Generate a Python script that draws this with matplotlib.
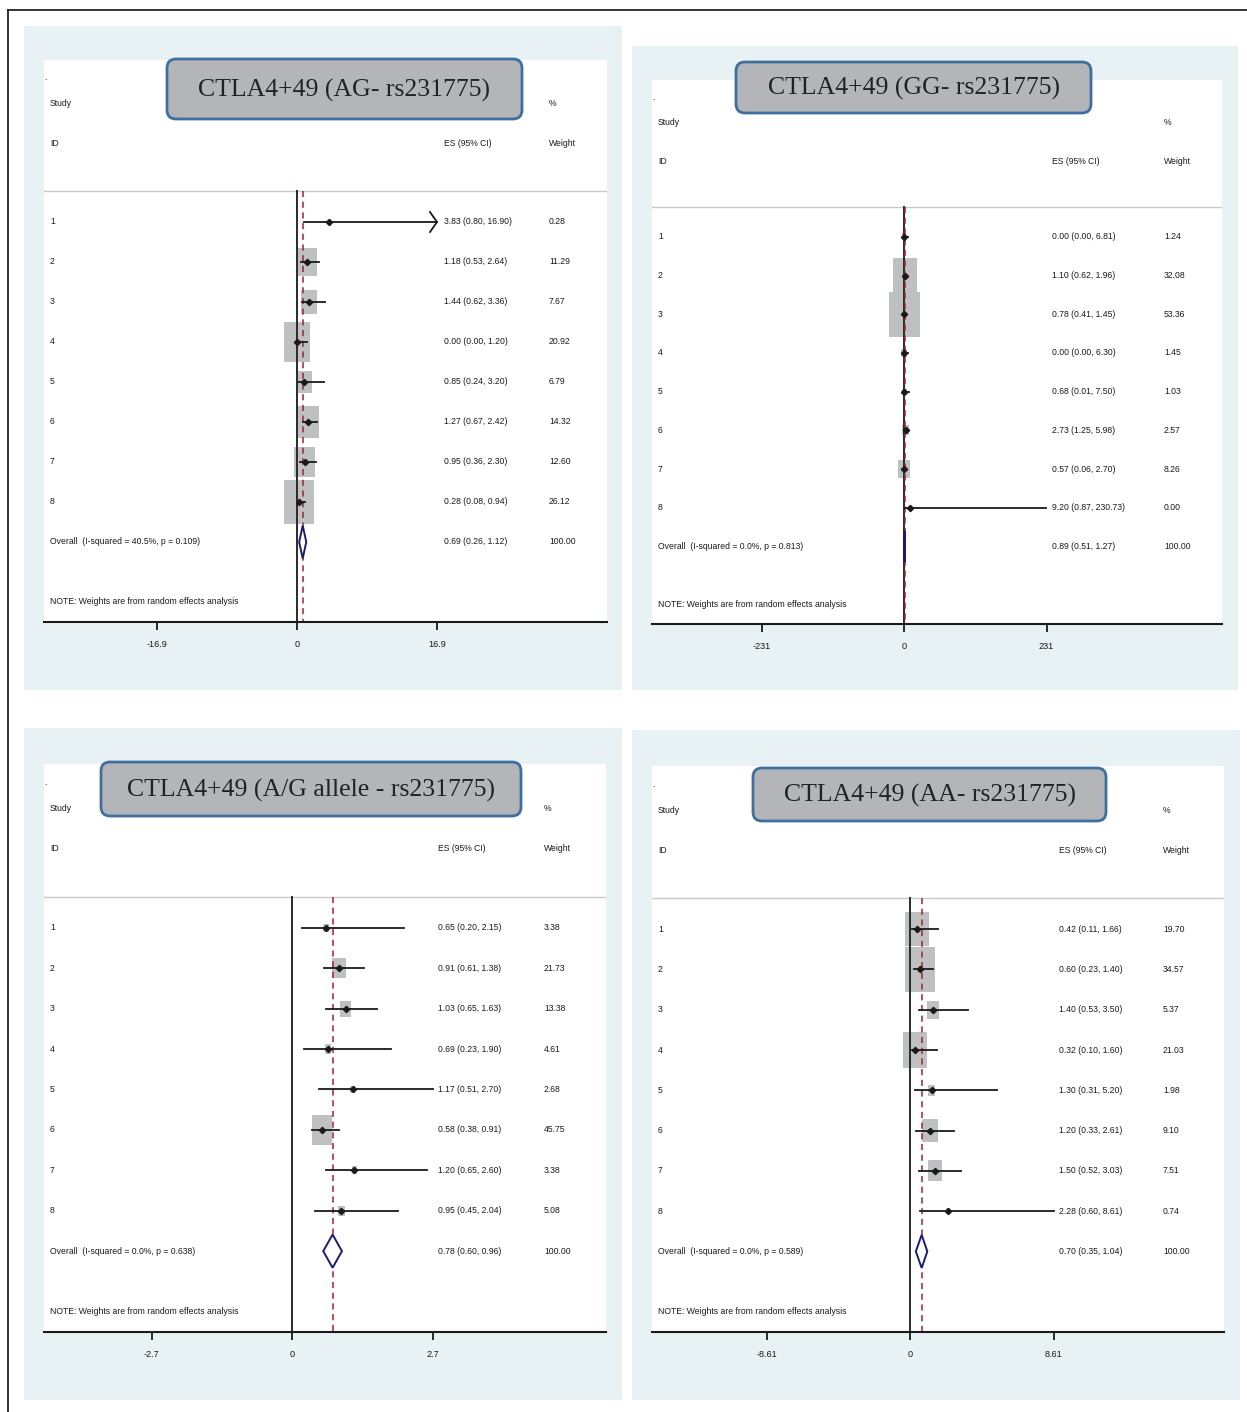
import matplotlib.pyplot as plt
from matplotlib.patches import Rectangle, FancyBboxPatch, Polygon
from matplotlib.transforms import blended_transform_factory

plt.rcParams['font.family'] = ['Liberation Sans', 'DejaVu Sans']

W, H = 1247, 1412

study_ids = ['1', '2', '3', '4', '5', '6', '7', '8']

# AG genotype
ag_es = [3.83, 1.18, 1.44, 0.00, 0.85, 1.27, 0.95, 0.28]
ag_lo = [0.80, 0.53, 0.62, 0.00, 0.24, 0.67, 0.36, 0.08]
ag_hi = [16.90, 2.64, 3.36, 1.20, 3.20, 2.42, 2.30, 0.94]
ag_wt = [0.28, 11.29, 7.67, 20.92, 6.79, 14.32, 12.60, 26.12]
ag_clipped = ['1']
ag_overall = [0.69, 0.26, 1.12]
ag_het = 'I-squared = 40.5%, p = 0.109'
ag_ticks = [-16.9, 0, 16.9]
ag_ticklabels = ['-16.9', '0', '16.9']

# GG genotype
gg_es = [0.00, 1.10, 0.78, 0.00, 0.68, 2.73, 0.57, 9.20]
gg_lo = [0.00, 0.62, 0.41, 0.00, 0.01, 1.25, 0.06, 0.87]
gg_hi = [6.81, 1.96, 1.45, 6.30, 7.50, 5.98, 2.70, 230.73]
gg_wt = [1.24, 32.08, 53.36, 1.45, 1.03, 2.57, 8.26, 0.00]
gg_clipped = []
gg_overall = [0.89, 0.51, 1.27]
gg_het = 'I-squared = 0.0%, p = 0.813'
gg_ticks = [-231, 0, 231]
gg_ticklabels = ['-231', '0', '231']

# A/G allele
al_es = [0.65, 0.91, 1.03, 0.69, 1.17, 0.58, 1.20, 0.95]
al_lo = [0.20, 0.61, 0.65, 0.23, 0.51, 0.38, 0.65, 0.45]
al_hi = [2.15, 1.38, 1.63, 1.90, 2.70, 0.91, 2.60, 2.04]
al_wt = [3.38, 21.73, 13.38, 4.61, 2.68, 45.75, 3.38, 5.08]
al_clipped = []
al_overall = [0.78, 0.60, 0.96]
al_het = 'I-squared = 0.0%, p = 0.638'
al_ticks = [-2.7, 0, 2.7]
al_ticklabels = ['-2.7', '0', '2.7']

# AA genotype
aa_es = [0.42, 0.60, 1.40, 0.32, 1.30, 1.20, 1.50, 2.28]
aa_lo = [0.11, 0.23, 0.53, 0.10, 0.31, 0.33, 0.52, 0.60]
aa_hi = [1.66, 1.40, 3.50, 1.60, 5.20, 2.61, 3.03, 8.61]
aa_wt = [19.70, 34.57, 5.37, 21.03, 1.98, 9.10, 7.51, 0.74]
aa_clipped = []
aa_overall = [0.70, 0.35, 1.04]
aa_het = 'I-squared = 0.0%, p = 0.589'
aa_ticks = [-8.61, 0, 8.61]
aa_ticklabels = ['-8.61', '0', '8.61']

titles = ['CTLA4+49 (AG- rs231775)', 'CTLA4+49 (GG- rs231775)',
          'CTLA4+49 (A/G allele - rs231775)', 'CTLA4+49 (AA- rs231775)']

# layout in pixels: background, white plot area, zero / tick x, title box, text columns, box scale
panels = [
    dict(es=ag_es, lo=ag_lo, hi=ag_hi, wt=ag_wt, clip=ag_clipped, ov=ag_overall, het=ag_het,
         ticks=ag_ticks, tl=ag_ticklabels, title=titles[0],
         bg=(24, 26, 622, 690), white=(44, 60, 607, 622), zero=297, tpx=140,
         tbox=(167, 59, 522, 119), cols=(50, 444, 549), k=5.85),
    dict(es=gg_es, lo=gg_lo, hi=gg_hi, wt=gg_wt, clip=gg_clipped, ov=gg_overall, het=gg_het,
         ticks=gg_ticks, tl=gg_ticklabels, title=titles[1],
         bg=(632, 46, 1238, 690), white=(652, 80, 1222, 624), zero=904, tpx=142.5,
         tbox=(736, 62, 1091, 113), cols=(658, 1052, 1164), k=4.2),
    dict(es=al_es, lo=al_lo, hi=al_hi, wt=al_wt, clip=al_clipped, ov=al_overall, het=al_het,
         ticks=al_ticks, tl=al_ticklabels, title=titles[2],
         bg=(24, 728, 622, 1400), white=(44, 764, 606, 1332), zero=292, tpx=140.5,
         tbox=(101, 762, 521, 816), cols=(50, 438, 544), k=2.95),
    dict(es=aa_es, lo=aa_lo, hi=aa_hi, wt=aa_wt, clip=aa_clipped, ov=aa_overall, het=aa_het,
         ticks=aa_ticks, tl=aa_ticklabels, title=titles[3],
         bg=(632, 730, 1240, 1400), white=(652, 766, 1224, 1332), zero=910, tpx=143.5,
         tbox=(753, 768, 1106, 821), cols=(658, 1059, 1163), k=5.2),
]

PANEL_BG = '#E8F1F3'
BOX_GREY = '#BFC0C2'
NAVY = '#1C1C6E'
DASH_RED = '#A3202A'
INK = '#1A1A1A'
FS = 6.2
Y_TOP, Y_BOT = -3.05, 11.0

fig = plt.figure(figsize=(W / 100, H / 100), dpi=100)

bg = fig.add_axes([0, 0, 1, 1], zorder=0)
bg.set_xlim(0, W)
bg.set_ylim(H, 0)
bg.axis('off')
for p in panels:
    x0, y0, x1, y1 = p['bg']
    bg.add_patch(Rectangle((x0, y0), x1 - x0, y1 - y0, facecolor=PANEL_BG, edgecolor='none'))

for p in panels:
    wl, wt_, wr, wb = p['white']
    ax = fig.add_axes([wl / W, 1 - wb / H, (wr - wl) / W, (wb - wt_) / H], zorder=1)
    ax.set_facecolor('white')
    s = p['tpx'] / p['ticks'][2]
    ax.set_xlim((wl - p['zero']) / s, (wr - p['zero']) / s)
    ax.set_ylim(Y_BOT, Y_TOP)
    for sp in ['top', 'left', 'right']:
        ax.spines[sp].set_visible(False)
    ax.spines['bottom'].set_linewidth(1.5)
    ax.spines['bottom'].set_color(INK)
    ax.set_yticks([])
    ax.set_xticks(p['ticks'])
    ax.set_xticklabels(p['tl'], fontsize=FS + 0.4)
    ax.tick_params(axis='x', direction='out', length=6, width=1.3, pad=7, colors=INK)

    px_row = (wb - wt_) / (Y_BOT - Y_TOP)
    px_x = s

    # header block
    tr = blended_transform_factory(ax.transAxes, ax.transData)
    fx = [(c - wl) / (wr - wl) for c in p['cols']]
    kw = dict(transform=tr, fontsize=FS, va='center', color=INK)
    ax.text(fx[0] - 0.01, -2.6, '.', **kw)
    ax.text(fx[0], -1.95, 'Study', **kw)
    ax.text(fx[2], -1.95, '%', **kw)
    ax.text(fx[0], -0.95, 'ID', **kw)
    ax.text(fx[1], -0.95, 'ES (95% CI)', **kw)
    ax.text(fx[2], -0.95, 'Weight', **kw)
    ax.axhline(0.23, color='#C8C8C8', lw=1.0)

    # reference lines
    ax.plot([0, 0], [0.23, Y_BOT], color='#2A2A2A', lw=1.4, zorder=2)
    ax.plot([p['ov'][0]] * 2, [0.23, Y_BOT], color=DASH_RED, lw=1.1,
            dashes=(4, 3), zorder=2)

    for i, sid in enumerate(study_ids):
        row = i + 1
        es, lo, hi, w = p['es'][i], p['lo'][i], p['hi'][i], p['wt'][i]
        bw = p['k'] * w ** 0.5
        bh = bw * 1.47
        ax.add_patch(Rectangle((es - bw / 2 / px_x, row - bh / 2 / px_row),
                               bw / px_x, bh / px_row, facecolor=BOX_GREY,
                               edgecolor='none', zorder=1))
        ax.plot([lo, hi], [row, row], color=INK, lw=1.3, zorder=3)
        if sid in p['clip']:
            dx = 7 / px_x
            ax.plot([hi - dx, hi, hi - dx], [row - 0.25, row, row + 0.25],
                    color=INK, lw=1.3, zorder=3)
        ax.plot(es, row, marker='D', ms=3.2, color=INK, zorder=4)
        ax.text(fx[0], row, sid, **kw)
        ax.text(fx[1], row, f'{es:.2f} ({lo:.2f}, {hi:.2f})', **kw)
        ax.text(fx[2], row, f'{w:.2f}', **kw)

    # pooled estimate
    oe, ol, oh = p['ov']
    ax.add_patch(Polygon([(ol, 9), (oe, 9 - 0.41), (oh, 9), (oe, 9 + 0.41)],
                         closed=True, facecolor='white', edgecolor=NAVY,
                         lw=1.4, zorder=3))
    ax.text(fx[0], 9, f'Overall  ({p["het"]})', **kw)
    ax.text(fx[1], 9, f'{oe:.2f} ({ol:.2f}, {oh:.2f})', **kw)
    ax.text(fx[2], 9, '100.00', **kw)
    ax.text(fx[0], 10.5, 'NOTE: Weights are from random effects analysis', **kw)

top = fig.add_axes([0, 0, 1, 1], zorder=5)
top.set_xlim(0, W)
top.set_ylim(H, 0)
top.axis('off')
top.patch.set_alpha(0)
top.plot([8, W + 5], [10, 10], color='#222222', lw=1.3)
top.plot([8, 8], [10, H + 5], color='#222222', lw=1.3)
for p in panels:
    x0, y0, x1, y1 = p['tbox']
    top.add_patch(FancyBboxPatch((x0, y0), x1 - x0, y1 - y0,
                                 boxstyle='round,pad=0,rounding_size=9',
                                 facecolor='#B4B5B9', edgecolor='#3F6F9E', lw=2.0))
    top.text((x0 + x1) / 2, (y0 + y1) / 2 + 1, p['title'], ha='center', va='center',
             fontsize=18.5, family=['Liberation Serif', 'DejaVu Serif'], color='#222222')

fig.savefig('out.png', dpi=100)
